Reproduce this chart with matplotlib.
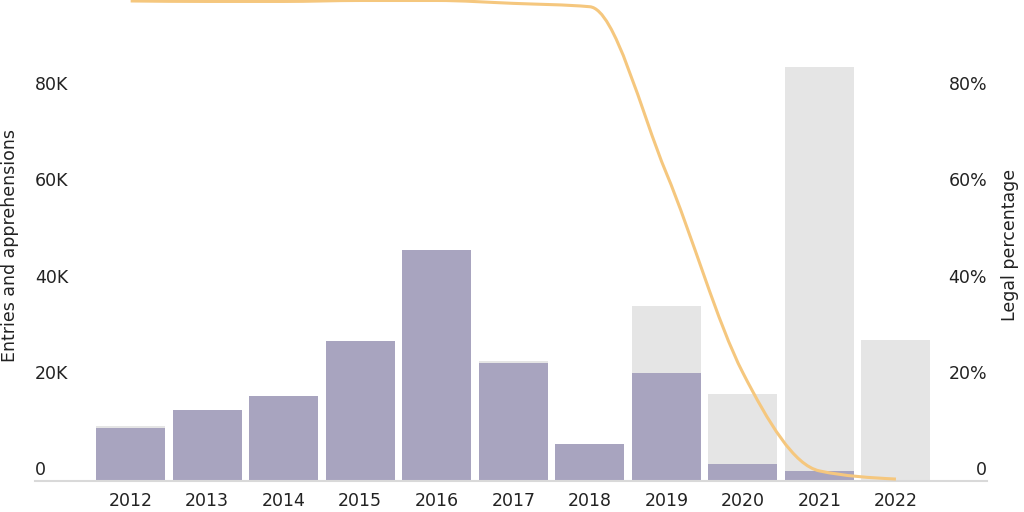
import matplotlib
matplotlib.use("Agg")
import matplotlib.pyplot as plt
from matplotlib.path import Path
from matplotlib.patches import PathPatch
import numpy as np

years = [2012, 2013, 2014, 2015, 2016, 2017, 2018, 2019, 2020, 2021, 2022]
# total entries and apprehensions (grey) and legal entries (purple)
total = [11400, 14700, 17700, 29100, 48000, 24900, 7700, 36300, 18100, 86000, 29300]
legal = [11100, 14700, 17700, 29100, 48000, 24500, 7700, 22400, 3500, 2100, 0]
# legal percentage (right axis)
legal_pct = [99.8, 99.7, 99.7, 99.9, 99.9, 99.3, 98.6, 64.0, 22.5, 2.1, 0.4]

left_ticks = [0, 20000, 40000, 60000, 80000]
left_labels = ["0", "20K", "40K", "60K", "80K"]
right_ticks = [0, 20, 40, 60, 80]
right_labels = ["0", "20%", "40%", "60%", "80%"]

grey = "#e5e5e5"
purple = "#a8a4bf"
orange = "#f5c77e"
txt = "#222222"

plt.rcParams['font.family'] = ['DejaVu Sans']
plt.rcParams['font.size'] = 12.5


def monotone_path(xs, ys):
    # d3 curveMonotoneX style bezier segments
    xs = np.asarray(xs, float)
    ys = np.asarray(ys, float)
    n = len(xs)
    h = np.diff(xs)
    s = np.diff(ys) / h
    t = np.zeros(n)
    for i in range(1, n - 1):
        p = (s[i - 1] * h[i] + s[i] * h[i - 1]) / (h[i - 1] + h[i])
        t[i] = (np.sign(s[i - 1]) + np.sign(s[i])) * min(abs(s[i - 1]), abs(s[i]), 0.5 * abs(p))
    t[0] = (3 * s[0] - t[1]) / 2
    t[-1] = (3 * s[-1] - t[-2]) / 2
    verts = [(xs[0], ys[0])]
    codes = [Path.MOVETO]
    for i in range(n - 1):
        dx = (xs[i + 1] - xs[i]) / 3
        verts += [(xs[i] + dx, ys[i] + dx * t[i]),
                  (xs[i + 1] - dx, ys[i + 1] - dx * t[i + 1]),
                  (xs[i + 1], ys[i + 1])]
        codes += [Path.CURVE4] * 3
    return Path(verts, codes)


fig = plt.figure(figsize=(10.24, 5.12), dpi=100)
ax = fig.add_axes([35 / 1024, 31 / 512, 952 / 1024, 481 / 512])
x = np.arange(len(years))

ax.bar(x, total, width=0.9, color=grey, zorder=1)
ax.bar(x, legal, width=0.9, color=purple, zorder=2)

ax.set_xlim(-1.25, len(years) - 1 + 1.19)
ax.set_ylim(0, 100000)
ax.set_xticks(x)
ax.set_xticklabels([str(y) for y in years], color=txt)
ax.tick_params(axis='x', length=0, pad=8)
ax.set_yticks([])
for sp in ["top", "left", "right"]:
    ax.spines[sp].set_visible(False)
ax.spines["bottom"].set_color("#d9d9d9")
ax.spines["bottom"].set_linewidth(1.5)

for v, lab in zip(left_ticks, left_labels):
    ax.text(0, v + 400, lab, transform=ax.get_yaxis_transform(),
            ha="left", va="bottom", color=txt)

ax2 = ax.twinx()
ax2.set_ylim(0, 100)
ax2.set_yticks([])
for sp in ["top", "left", "right", "bottom"]:
    ax2.spines[sp].set_visible(False)
for v, lab in zip(right_ticks, right_labels):
    ax2.text(1, v + 0.4, lab, transform=ax2.get_yaxis_transform(),
             ha="right", va="bottom", color=txt)

line = PathPatch(monotone_path(x, legal_pct), facecolor="none",
                 edgecolor=orange, linewidth=2.2, zorder=5)
ax2.add_patch(line)

fig.text(10 / 1024, 1 - 245 / 512, "Entries and apprehensions", rotation=90,
         ha="center", va="center", color=txt)
fig.text(1010 / 1024, 1 - 245 / 512, "Legal percentage", rotation=90,
         ha="center", va="center", color=txt)

fig.savefig("out.png", dpi=100)
